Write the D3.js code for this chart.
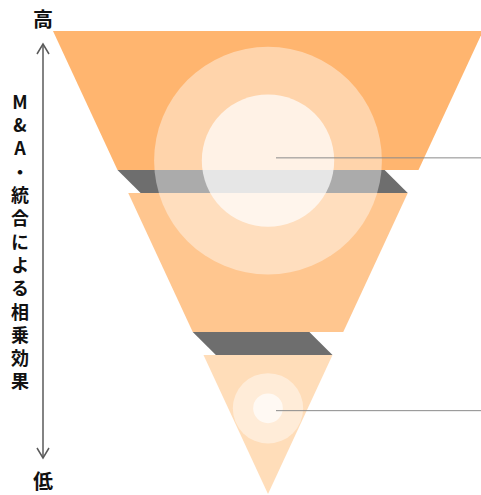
<!DOCTYPE html>
<html>
<head>
<meta charset="utf-8">
<script src="https://cdn.jsdelivr.net/npm/d3@7"></script>
<style>
  html, body { margin: 0; padding: 0; background: #fff; }
  svg { display: block; }
  text { font-family: "Noto Sans CJK JP", "Noto Sans", sans-serif; }
  .vtitle { writing-mode: vertical-rl; text-orientation: upright; }
</style>
</head>
<body>
<svg id="chart" width="481" height="495"></svg>
<script>
// Funnel tiers: start / end depth on a 0–100 scale (0 = widest top, 100 = apex)
const tierStart = [0, 35, 70];
const tierEnd = [30, 65, 100];
const tierColors = ["#FFB56F", "#FFC68F", "#FFDDB9"];

// Folded connectors between tiers
const connectorColor = "#6E6E6E";

// Highlight rings: centre depth and radii (same depth units)
const ringDepth = [28, 81.5];
const ringOuter = [24.6, 7.6];
const ringInner = [14.3, 3.2];
const leaderDepth = [27.4, 82];

// Axis labels
const axisTop = "高";
const axisBottom = "低";
const axisTitle = "M&A・統合による相乗効果";

const svg = d3.select("#chart");

const y = d3.scaleLinear().domain([0, 100]).range([31, 494]);
const x = d3.scaleLinear().domain([-100, 100]).range([53, 483]);
const unit = y(1) - y(0);
const half = d => 100 - d; // half width of the inverted triangle at depth d

// connectors (drawn first, tiers sit on top)
const connectors = d3.range(tierStart.length - 1).map(i => {
  const a = tierEnd[i], b = tierStart[i + 1];
  const shift = (y(b) - y(a));
  return [
    [x(-half(a)), y(a)],
    [x(half(b)) - shift, y(a)],
    [x(half(b)), y(b)],
    [x(-half(a)) + shift, y(b)]
  ];
});
svg.append("g").selectAll("path").data(connectors).join("path")
  .attr("d", d => d3.line()(d) + "Z")
  .attr("fill", connectorColor);

// tiers
const tiers = tierStart.map((s, i) => {
  const e = tierEnd[i];
  return [
    [x(-half(s)), y(s)],
    [x(half(s)), y(s)],
    [x(half(e)), y(e)],
    [x(-half(e)), y(e)]
  ];
});
svg.append("g").selectAll("path").data(tiers).join("path")
  .attr("d", d => d3.line()(d) + "Z")
  .attr("fill", (d, i) => tierColors[i]);

// rings
const rings = svg.append("g");
ringDepth.forEach((d, i) => {
  rings.append("circle")
    .attr("cx", x(0)).attr("cy", y(d))
    .attr("r", ringOuter[i] * unit)
    .attr("fill", "#fff").attr("fill-opacity", i === 0 ? 0.42 : 0.45);
  rings.append("circle")
    .attr("cx", x(0)).attr("cy", y(d))
    .attr("r", ringInner[i] * unit)
    .attr("fill", "#fff").attr("fill-opacity", 0.7);
});

// leader lines
svg.append("g").selectAll("line").data(leaderDepth).join("line")
  .attr("x1", x(0) + 8).attr("x2", 481)
  .attr("y1", d => y(d)).attr("y2", d => y(d))
  .attr("stroke", "#8A8A8A").attr("stroke-width", 1);

// vertical axis with arrowheads at both ends
const ax = 43;
const axY = d3.scaleLinear().domain([0, 1]).range([44, 458]);
const axis = svg.append("g").attr("stroke", "#5A5A5A").attr("stroke-width", 1.5).attr("fill", "none");
axis.append("line").attr("x1", ax).attr("x2", ax).attr("y1", axY(0)).attr("y2", axY(1));
axis.append("path").attr("d", `M${ax - 6},${axY(0) + 10}L${ax},${axY(0)}L${ax + 6},${axY(0) + 10}`);
axis.append("path").attr("d", `M${ax - 6},${axY(1) - 10}L${ax},${axY(1)}L${ax + 6},${axY(1) - 10}`);

svg.append("text").attr("x", ax).attr("y", 18).attr("text-anchor", "middle")
  .attr("dominant-baseline", "central").attr("font-size", 20).attr("font-weight", 700)
  .attr("fill", "#111").text(axisTop);
svg.append("text").attr("x", ax).attr("y", 480).attr("text-anchor", "middle")
  .attr("dominant-baseline", "central").attr("font-size", 20).attr("font-weight", 700)
  .attr("fill", "#111").text(axisBottom);

// vertical title set in upright vertical writing
svg.append("text").attr("class", "vtitle")
  .attr("x", 20).attr("y", 93)
  .attr("font-size", 18).attr("font-weight", 700).attr("fill", "#111")
  .attr("letter-spacing", 5.3)
  .text(axisTitle);
</script>
</body>
</html>
